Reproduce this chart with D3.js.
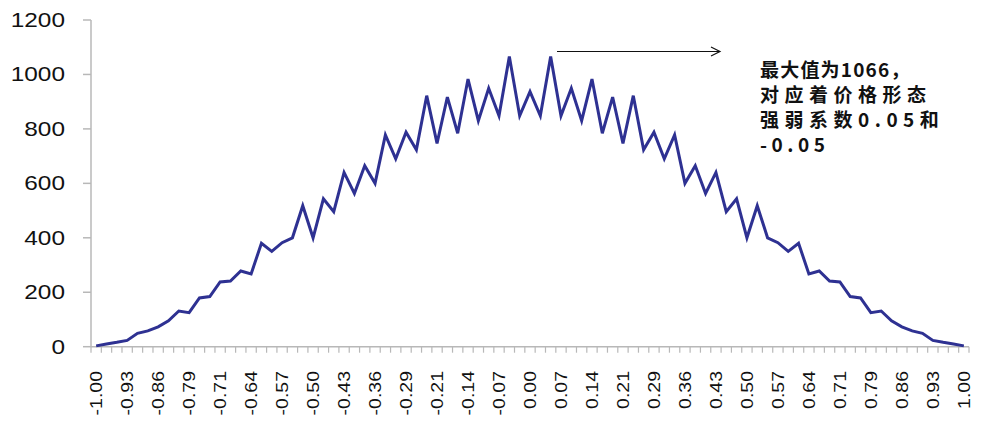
<!DOCTYPE html>
<html>
<head>
<meta charset="utf-8">
<script src="https://cdn.jsdelivr.net/npm/d3@7"></script>
<style>
  html, body { margin: 0; padding: 0; background: #fff; }
  svg { display: block; }
</style>
</head>
<body>
<svg id="chart" width="984" height="429"></svg>
<script>
const categories = [
  "-1.00","-0.98","-0.95","-0.93","-0.90","-0.88","-0.86","-0.83","-0.81","-0.79",
  "-0.76","-0.74","-0.71","-0.69","-0.67","-0.64","-0.62","-0.60","-0.57","-0.55",
  "-0.52","-0.50","-0.48","-0.45","-0.43","-0.40","-0.38","-0.36","-0.33","-0.31",
  "-0.29","-0.26","-0.24","-0.21","-0.19","-0.17","-0.14","-0.12","-0.10","-0.07",
  "-0.05","-0.02","0.00","0.02","0.05","0.07","0.10","0.12","0.14","0.17",
  "0.19","0.21","0.24","0.26","0.29","0.31","0.33","0.36","0.38","0.40",
  "0.43","0.45","0.48","0.50","0.52","0.55","0.57","0.60","0.62","0.64",
  "0.67","0.69","0.71","0.74","0.76","0.79","0.81","0.83","0.86","0.88",
  "0.90","0.93","0.95","0.98","1.00"
];
const values = [
  3, 10, 16, 23, 49, 58, 73, 95, 131, 125,
  179, 184, 238, 241, 278, 267, 380, 350, 382, 400,
  518, 400, 543, 496, 640, 563, 665, 600, 778, 690,
  788, 723, 922, 747, 917, 784, 983, 830, 949, 848,
  1066, 848, 937, 848, 1066, 848, 949, 830, 983, 784,
  917, 747, 922, 723, 788, 690, 778, 600, 665, 563,
  640, 496, 543, 400, 518, 400, 382, 350, 380, 267,
  278, 241, 238, 184, 179, 125, 131, 95, 73, 58,
  49, 23, 16, 10, 3
];
const tickLabels = [
  "-1.00","-0.93","-0.86","-0.79","-0.71","-0.64","-0.57","-0.50","-0.43","-0.36",
  "-0.29","-0.21","-0.14","-0.07","0.00","0.07","0.14","0.21","0.29","0.36",
  "0.43","0.50","0.57","0.64","0.71","0.79","0.86","0.93","1.00"
];
const yTicks = [0, 200, 400, 600, 800, 1000, 1200];
const annotationLines = ["最大值为1066，", "对应着价格形态", "强弱系数0.05和", "-0.05"];
const annotationSpacing = [1.2, 5.5, 5.5, 4.5];

const svg = d3.select("#chart");
const plotLeft = 91, plotRight = 969, plotTop = 20, plotBottom = 346.7;
const axisColor = "#b8b8b8";

const x = d3.scaleBand().domain(categories).range([plotLeft, plotRight]).paddingInner(0).paddingOuter(0);
const y = d3.scaleLinear().domain([0, 1200]).range([plotBottom, plotTop]);

// y axis line and ticks
svg.append("line").attr("x1", plotLeft).attr("x2", plotLeft).attr("y1", y(1200)).attr("y2", y(0))
  .attr("stroke", axisColor).attr("stroke-width", 1.5);
svg.selectAll(".ytick").data(yTicks).enter().append("line")
  .attr("x1", plotLeft - 8).attr("x2", plotLeft).attr("y1", d => y(d)).attr("y2", d => y(d))
  .attr("stroke", axisColor).attr("stroke-width", 1.5);
svg.selectAll(".ylab").data(yTicks).enter().append("text")
  .attr("transform", d => `translate(65,${y(d)}) scale(1.22,1)`)
  .attr("dy", "0.35em")
  .attr("text-anchor", "end")
  .attr("font-family", "'Liberation Sans', Arial, sans-serif")
  .attr("font-size", 20)
  .attr("fill", "#111")
  .text(d => d);

// x axis line and ticks at category boundaries
svg.append("line").attr("x1", plotLeft).attr("x2", plotRight).attr("y1", plotBottom).attr("y2", plotBottom)
  .attr("stroke", axisColor).attr("stroke-width", 1.5);
const boundaries = categories.map(c => x(c)).concat([x(categories[categories.length - 1]) + x.bandwidth()]);
svg.selectAll(".xtick").data(boundaries).enter().append("line")
  .attr("x1", d => d).attr("x2", d => d).attr("y1", plotBottom).attr("y2", plotBottom + 6)
  .attr("stroke", axisColor).attr("stroke-width", 1.2);
svg.selectAll(".xlab").data(tickLabels).enter().append("text")
  .attr("transform", d => `translate(${x(d) + x.bandwidth() / 2},371) rotate(-90) scale(1,0.85)`)
  .attr("dy", "0.36em")
  .attr("text-anchor", "end")
  .attr("font-family", "'Liberation Sans', Arial, sans-serif")
  .attr("font-size", 19.5)
  .attr("fill", "#111")
  .text(d => d);

// data line
const line = d3.line()
  .x((d, i) => x(categories[i]) + x.bandwidth() / 2)
  .y(d => y(d));
svg.append("path").datum(values)
  .attr("d", line)
  .attr("fill", "none")
  .attr("stroke", "#2e3192")
  .attr("stroke-width", 3)
  .attr("stroke-linejoin", "miter");

// arrow
const ay = 51.5, ax1 = 557, ax2 = 720;
svg.append("line").attr("x1", ax1).attr("x2", ax2).attr("y1", ay).attr("y2", ay)
  .attr("stroke", "#111").attr("stroke-width", 1.2);
svg.append("path").attr("d", `M${ax2 - 9},${ay - 4.5} L${ax2},${ay} L${ax2 - 9},${ay + 4.5}`)
  .attr("fill", "none").attr("stroke", "#111").attr("stroke-width", 1.2);

// annotation
svg.selectAll(".ann").data(annotationLines).enter().append("text")
  .attr("x", 760)
  .attr("y", (d, i) => 77 + i * 25)
  .attr("font-family", "'Noto Sans CJK SC', sans-serif")
  .attr("font-weight", "bold")
  .attr("font-size", 19)
  .attr("letter-spacing", (d, i) => annotationSpacing[i] + "px")
  .attr("fill", "#111")
  .text(d => d);
</script>
</body>
</html>
